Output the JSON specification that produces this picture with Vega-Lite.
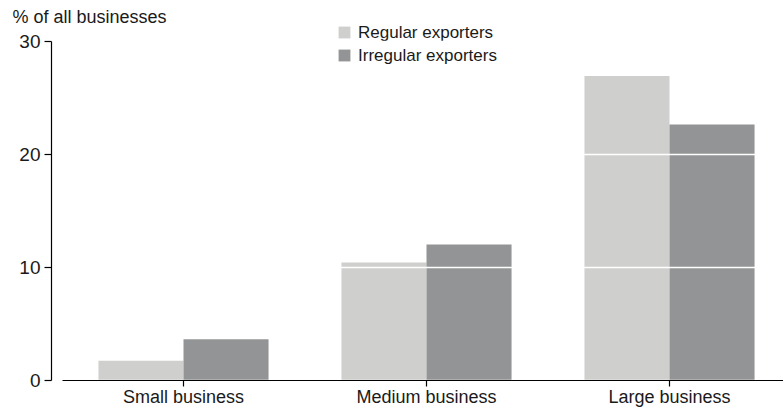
{
  "$schema": "https://vega.github.io/schema/vega-lite/v6.json",
  "width": 729,
  "height": 339,
  "autosize": {"type": "none"},
  "padding": {"left": 62, "top": 41, "right": 0, "bottom": 34},
  "background": "white",
  "config": {
    "view": {"stroke": null},
    "font": "Liberation Sans"
  },
  "data": {
    "values": [
      {"size": "Small business", "type": "Regular exporters", "value": 1.7},
      {"size": "Small business", "type": "Irregular exporters", "value": 3.6},
      {"size": "Medium business", "type": "Regular exporters", "value": 10.4},
      {"size": "Medium business", "type": "Irregular exporters", "value": 12.0},
      {"size": "Large business", "type": "Regular exporters", "value": 26.9},
      {"size": "Large business", "type": "Irregular exporters", "value": 22.6}
    ]
  },
  "mark": {"type": "bar"},
  "encoding": {
    "x": {
      "field": "size",
      "type": "nominal",
      "sort": ["Small business", "Medium business", "Large business"],
      "scale": {"paddingInner": 0.3, "paddingOuter": 0.15},
      "axis": {
        "title": null,
        "zindex": 2,
        "labelAngle": 0,
        "labelFontSize": 18,
        "labelColor": "#1a1a1a",
        "labelPadding": 2,
        "domainColor": "#000000",
        "domainWidth": 1.2,
        "tickColor": "#000000",
        "tickSize": 6,
        "tickWidth": 1.2,
        "grid": false
      }
    },
    "xOffset": {
      "field": "type",
      "type": "nominal",
      "sort": ["Regular exporters", "Irregular exporters"],
      "scale": {"paddingInner": 0, "paddingOuter": 0}
    },
    "y": {
      "field": "value",
      "type": "quantitative",
      "scale": {"domain": [0, 30], "nice": false},
      "axis": {
        "values": [0, 10, 20, 30],
        "offset": 11,
        "zindex": 1,
        "grid": true,
        "gridColor": "#ffffff",
        "gridWidth": 1.5,
        "domainColor": "#000000",
        "domainWidth": 1.2,
        "tickColor": "#000000",
        "tickSize": 7,
        "tickWidth": 1.2,
        "labelFontSize": 19,
        "labelColor": "#1a1a1a",
        "labelPadding": 4,
        "title": "% of all businesses",
        "titleAngle": 0,
        "titleAlign": "left",
        "titleBaseline": "alphabetic",
        "titleFontWeight": "normal",
        "titleFontSize": 18,
        "titleColor": "#1a1a1a",
        "titleX": -39,
        "titleY": -19
      }
    },
    "color": {
      "field": "type",
      "type": "nominal",
      "sort": ["Regular exporters", "Irregular exporters"],
      "scale": {"domain": ["Regular exporters", "Irregular exporters"], "range": ["#cfcfcd", "#939495"]},
      "legend": {
        "title": null,
        "orient": "none",
        "legendX": 274,
        "legendY": -17,
        "symbolType": "square",
        "symbolSize": 140,
        "symbolStrokeWidth": 0,
        "labelFontSize": 17,
        "labelColor": "#1a1a1a",
        "rowPadding": 5,
        "labelOffset": 5
      }
    }
  }
}
